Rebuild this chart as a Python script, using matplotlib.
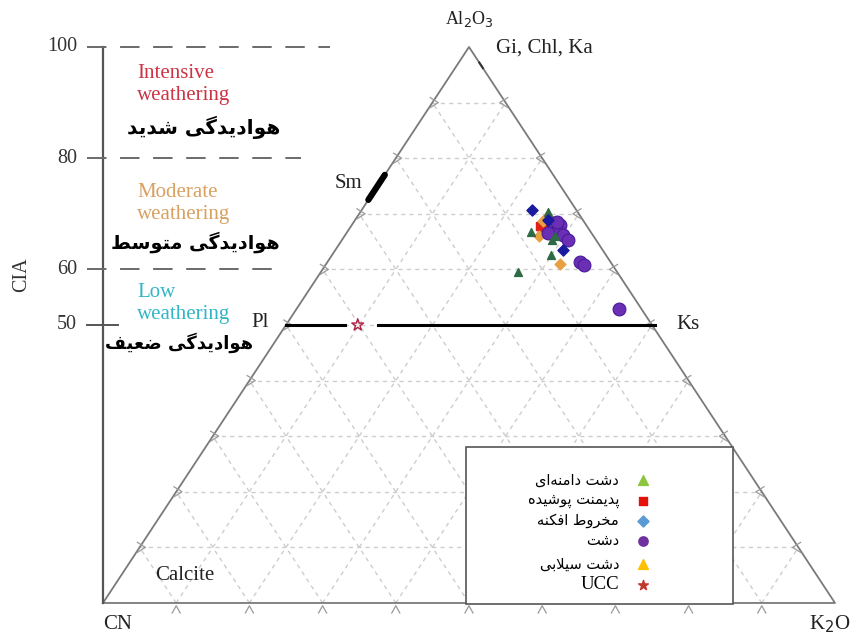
import matplotlib
matplotlib.use("Agg")
import matplotlib.pyplot as plt
from matplotlib.patches import Rectangle

plt.rcParams['font.family'] = ['Liberation Serif', 'DejaVu Sans']

# CIA (= Al2O3 %) and K2O % for each sample group, CN is the remainder
green_cia = [70.3, 66.8, 65.3, 62.5, 59.6, 66.0]
green_k = [25.7, 25.1, 28.7, 30.0, 26.9, 28.8]
red_cia = [66.9, 67.6, 67.8]
red_k = [26.5, 26.6, 25.8]
blue_cia = [70.6, 63.4, 68.9]
blue_k = [23.3, 31.1, 26.4]
purple_cia = [68.3, 68.0, 66.9, 66.2, 65.3, 66.5, 61.3, 60.8, 52.9, 68.5]
purple_k = [27.3, 28.4, 28.6, 29.8, 30.9, 27.6, 34.5, 35.3, 44.1, 27.8]
orange_cia = [68.7, 66.0, 61.0, 69.2]
orange_k = [25.8, 26.5, 31.9, 25.9]
ucc_cia = [50.0]
ucc_k = [9.8]

cia_ticks = [100, 80, 60, 50]
legend_labels = ['دشت دامنه‌ای', 'پدیمنت پوشیده', 'مخروط افکنه', 'دشت', 'دشت سیلابی', 'UCC']


# --- minimal Persian shaping (matplotlib has no bidi / joining support) ---
# forms: isolated, final, initial, medial
FORMS = {
    'ا': ('\uFE8D', '\uFE8E', '\uFE8D', '\uFE8E'),
    'ب': ('\uFE8F', '\uFE90', '\uFE91', '\uFE92'),
    'پ': ('\uFB56', '\uFB57', '\uFB58', '\uFB59'),
    'ت': ('\uFE95', '\uFE96', '\uFE97', '\uFE98'),
    'خ': ('\uFEA5', '\uFEA6', '\uFEA7', '\uFEA8'),
    'د': ('\uFEA9', '\uFEAA', '\uFEA9', '\uFEAA'),
    'ر': ('\uFEAD', '\uFEAE', '\uFEAD', '\uFEAE'),
    'س': ('\uFEB1', '\uFEB2', '\uFEB3', '\uFEB4'),
    'ش': ('\uFEB5', '\uFEB6', '\uFEB7', '\uFEB8'),
    'ض': ('\uFEBD', '\uFEBE', '\uFEBF', '\uFEC0'),
    'ط': ('\uFEC1', '\uFEC2', '\uFEC3', '\uFEC4'),
    'ع': ('\uFEC9', '\uFECA', '\uFECB', '\uFECC'),
    'ف': ('\uFED1', '\uFED2', '\uFED3', '\uFED4'),
    'ک': ('\uFB8E', '\uFB8F', '\uFB90', '\uFB91'),
    'گ': ('\uFB92', '\uFB93', '\uFB94', '\uFB95'),
    'ل': ('\uFEDD', '\uFEDE', '\uFEDF', '\uFEE0'),
    'م': ('\uFEE1', '\uFEE2', '\uFEE3', '\uFEE4'),
    'ن': ('\uFEE5', '\uFEE6', '\uFEE7', '\uFEE8'),
    'ه': ('\uFEE9', '\uFEEA', '\uFEEB', '\uFEEC'),
    'و': ('\uFEED', '\uFEEE', '\uFEED', '\uFEEE'),
    'ی': ('\uFBFC', '\uFBFD', '\uFBFE', '\uFBFF'),
}
RIGHT_ONLY = set('ادرو')


def joins_next(c):
    return c in FORMS and c not in RIGHT_ONLY


def shape(text):
    out = []
    i = 0
    n = len(text)
    while i < n:
        c = text[i]
        if c not in FORMS:
            if c != '\u200c':
                out.append(c)
            i += 1
            continue
        prev = text[i - 1] if i > 0 else ''
        linked_prev = joins_next(prev)
        if c == 'ل' and i + 1 < n and text[i + 1] == 'ا':
            out.append('\uFEFC' if linked_prev else '\uFEFB')
            i += 2
            continue
        nxt = text[i + 1] if i + 1 < n else ''
        linked_next = joins_next(c) and nxt in FORMS
        iso, fin, ini, med = FORMS[c]
        if linked_prev and linked_next:
            out.append(med)
        elif linked_prev:
            out.append(fin)
        elif linked_next:
            out.append(ini)
        else:
            out.append(iso)
        i += 1
    return ''.join(reversed(out))


def tern(cia, k):
    # triangle with CN at (0,0), K2O at (1,0), Al2O3 at (0.5,1)
    a = [v / 100 for v in cia]
    kk = [v / 100 for v in k]
    return [x + y / 2 for x, y in zip(kk, a)], a


fig = plt.figure(figsize=(8.5, 6.34), dpi=100)
ax = fig.add_axes([0, 0, 1, 1])
ax.set_xlim(-0.1407, 1.0205)
ax.set_ylim(-0.0558, 1.0845)
ax.axis('off')

# dashed grid every 10 %
grid_kw = dict(color='#cdcdcd', lw=1.0, ls=(0, (3, 3)), zorder=1)
for i in range(1, 10):
    f = i / 10
    ax.plot([f / 2, 1 - f / 2], [f, f], **grid_kw)          # constant Al2O3
    ax.plot([f, f + (1 - f) / 2], [0, 1 - f], **grid_kw)    # constant K2O
    ax.plot([1 - f, (1 - f) / 2], [0, 1 - f], **grid_kw)    # constant CN

# triangle outline
ax.plot([0, 1, 0.5, 0], [0, 0, 1, 0], color='#7a7a7a', lw=1.3, zorder=2)

# small chevron ticks on the three sides
tk = dict(color='#9a9a9a', lw=0.9, zorder=2)
for i in range(1, 10):
    f = i / 10
    ax.plot([f - 0.0055, f, f + 0.0055], [-0.018, -0.005, -0.018], **tk)
    xr = 1 - f / 2
    ax.plot([xr + 0.003, xr - 0.008, xr + 0.003], [f + 0.009, f, f - 0.009], **tk)
    xl = f / 2
    ax.plot([xl - 0.003, xl + 0.008, xl - 0.003], [f + 0.009, f, f - 0.009], **tk)

# CIA scale on the left
ax.plot([0, 0], [0, 1], color='#555555', lw=1.6, zorder=2)
dash_ends = {100: 0.31, 80: 0.27, 60: 0.246}
for v in cia_ticks:
    y = v / 100
    if v in dash_ends:
        ax.plot([-0.022, dash_ends[v]], [y, y], color='#6a6a6a', lw=1.4,
                ls=(0, (10, 7)), zorder=2)
    else:
        ax.plot([-0.022, 0.02], [y, y], color='#555555', lw=1.4, zorder=2)
    ax.text(-0.0355, y, str(v), ha='right', va='center', fontsize=14.5, color='#333333')
ax.text(-0.111, 0.59, 'CIA', rotation=90, ha='center', va='center', fontsize=14.5,
        color='#333333')

# weathering zones
zone_kw = dict(fontsize=15, ha='left', va='center')
ax.text(0.0464, 0.953, 'Intensive', color='#cc3344', **zone_kw)
ax.text(0.0464, 0.912, 'weathering', color='#cc3344', **zone_kw)
ax.text(0.0464, 0.739, 'Moderate', color='#d9a060', **zone_kw)
ax.text(0.0464, 0.698, 'weathering', color='#d9a060', **zone_kw)
ax.text(0.0464, 0.559, 'Low', color='#33b5c9', **zone_kw)
ax.text(0.0464, 0.518, 'weathering', color='#33b5c9', **zone_kw)

fa_kw = dict(family='DejaVu Sans', fontweight='bold', ha='right',
             va='center', color='black')
ax.text(0.2418, 0.856, shape('هوادیدگی شدید'), fontsize=14.5, **fa_kw)
ax.text(0.2418, 0.649, shape('هوادیدگی متوسط'), fontsize=13.8, **fa_kw)
ax.text(0.205, 0.468, shape('هوادیدگی ضعیف'), fontsize=13, **fa_kw)

# mineral reference marks
ax.plot([0.3625, 0.385], [0.725, 0.77], color='black', lw=4.5,
        solid_capstyle='round', zorder=3)
ax.plot([1 - 0.962 / 2, 1 - 0.972 / 2], [0.962, 0.972], color='#333333', lw=1.5, zorder=3)
ax.plot([0.25, 0.331], [0.5, 0.5], color='black', lw=2.2, zorder=3)
ax.plot([0.376, 0.754], [0.5, 0.5], color='black', lw=2.2, zorder=3)

lab = dict(fontsize=15, color='#222222', ha='center', va='center')
ax.text(0.5, 1.05, 'Al$_2$O$_3$', fontsize=13, color='#222222', ha='center', va='center')
ax.text(0.603, 0.998, 'Gi, Chl, Ka', **lab)
ax.text(0.335, 0.755, 'Sm', **lab)
ax.text(0.2145, 0.5036, 'Pl', **lab)
ax.text(0.799, 0.5, 'Ks', **lab)
ax.text(0.112, 0.05, 'Calcite', **lab)
ax.text(0.0205, -0.038, 'CN', **lab)
ax.text(0.993, -0.038, 'K$_2$O', **lab)

# samples
x, y = tern(red_cia, red_k)
ax.scatter(x, y, marker='s', s=40, color='#e0201b', zorder=4)
x, y = tern(orange_cia, orange_k)
ax.scatter(x, y, marker='D', s=30, color='#e8a040', zorder=4)
x, y = tern(purple_cia, purple_k)
ax.scatter(x, y, marker='o', s=85, color='#6a2fb5', edgecolor='#4a1a9a', lw=0.8, zorder=5)
x, y = tern(green_cia, green_k)
ax.scatter(x, y, marker='^', s=32, color='#2e6b45', zorder=6)
x, y = tern(blue_cia, blue_k)
ax.scatter(x, y, marker='D', s=32, color='#1a1aa0', zorder=6)
x, y = tern(ucc_cia, ucc_k)
ax.scatter(x, y, marker='*', s=80, facecolor='none', edgecolor='#b02040', lw=1.0, zorder=6)

# legend box drawn by hand so the Persian labels can be right aligned
ax.add_patch(Rectangle((0.496, -0.002), 0.365, 0.2826, facecolor='white',
                       edgecolor='#555555', lw=1.2, zorder=7))
leg_markers = [('^', '#8cc63f', 50), ('s', '#e3120b', 32), ('D', '#5b9bd5', 32),
               ('o', '#7030a0', 45), ('^', '#ffc000', 50), ('*', '#c0392b', 55)]
leg_y = [0.221, 0.1835, 0.1475, 0.1115, 0.070, 0.0324]
for label, (m, c, s), ly in zip(legend_labels, leg_markers, leg_y):
    if label == 'UCC':
        ax.text(0.705, ly, label, ha='right', va='center', fontsize=13.5, zorder=8)
    else:
        ax.text(0.705, ly, shape(label), family='DejaVu Sans', ha='right',
                va='center', fontsize=10.5, zorder=8)
    ax.scatter([0.738], [ly], marker=m, s=s, color=c, zorder=8)

fig.savefig('out.png', dpi=100)
